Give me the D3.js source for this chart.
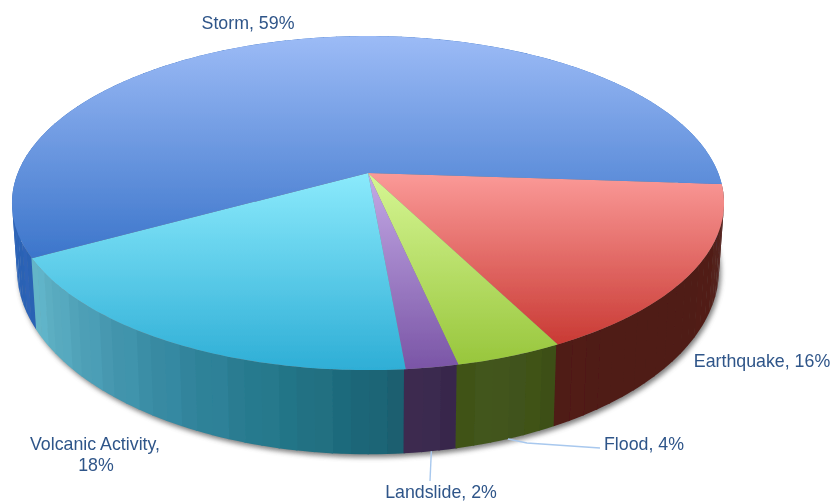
<!DOCTYPE html>
<html>
<head>
<meta charset="utf-8">
<script src="https://cdn.jsdelivr.net/npm/d3@7/dist/d3.min.js"></script>
<style>html,body{margin:0;padding:0;background:#fff}svg{display:block}text{font-family:"Liberation Sans",Arial,sans-serif}</style>
</head>
<body>
<svg id="c" width="834" height="502"></svg>
<script>
// Clockwise from the Storm/Earthquake boundary.
const categories = ["Earthquake","Flood","Landslide","Volcanic Activity","Storm"];
// They round to the percentages printed on the labels.
const shares = [16.4,4.1,2.0,18.4,59.0];
const topColors = [["#fb9a98","#c93a34"],["#d6f694","#98c63c"],["#c4aae6","#7a55a6"],["#8beafc","#2eaed6"],["#9cbbf6","#3a74ca"]];
const wallColors = [
  ["#5e3533","#54251f","#501c16","#4f1b15","#4f1b15","#501a14"],
  ["#3c5016","#40521a","#455622","#3f5319"],
  ["#38284c","#3c2a50"],
  ["#1a5f70","#237789","#33869f","#4c9db5","#63b5c8"],
  ["#2c62b4","#3270c4"]
];

const svg = d3.select("#c");
const defs = svg.append("defs");
defs.append("filter").attr("id","shadow").attr("x","-5%").attr("y","-5%").attr("width","110%").attr("height","110%")
  .append("feGaussianBlur").attr("stdDeviation",2.4);
defs.append("filter").attr("id","soft").append("feGaussianBlur").attr("stdDeviation",0.45);
defs.append("filter").attr("id","softText").attr("x","-5%").attr("y","-20%").attr("width","110%").attr("height","140%")
  .append("feGaussianBlur").attr("stdDeviation",0.3);

const cx = 368, k = 0.18;
const topFace = {a:350.2, b:161.6, y:173};
const baseFace = {a:345.3, b:179, y:236};
const project = (f,t) => {
  const u = Math.sin(t), v = -Math.cos(t), d = 1 - k*v;
  return [cx + f.a*u/d, f.y + f.b*v/d];
};
const line = d3.line();
const sweep = (f,a0,a1,n) => d3.range(n+1).map(i => project(f,a0+(a1-a0)*i/n));

const startDeg = 93.85;
const arcs = d3.pie().sort(null).value(d => d)
  .startAngle(startDeg*Math.PI/180).endAngle((startDeg+360)*Math.PI/180)(shares);

// Soft shadow under the rim
svg.append("path")
  .attr("d", line(sweep(baseFace,0,2*Math.PI,180))+"Z")
  .attr("transform","translate(2,3)")
  .attr("fill","#555").attr("opacity",.75).attr("filter","url(#shadow)");

const pie = svg.append("g").attr("filter","url(#soft)");

// Walls as narrow facets, as in the reference; Storm first so its back wall stays hidden
const facetStep = 2.5*Math.PI/180;
d3.range(arcs.length-1,-1,-1).forEach(i => {
  const s = arcs[i];
  const n = Math.max(2,Math.round((s.endAngle-s.startAngle)/facetStep));
  const shade = d3.interpolateRgbBasis(wallColors[i]);
  d3.range(n).forEach(j => {
    const a0 = s.startAngle+(s.endAngle-s.startAngle)*j/n;
    const a1 = s.startAngle+(s.endAngle-s.startAngle)*(j+1)/n;
    const c = d3.color(shade(j/(n-1)));
    const pts = [...sweep(topFace,a0,a1+0.004,2),...sweep(baseFace,a1+0.004,a0,2)];
    pie.append("path").attr("d",line(pts)+"Z")
      .attr("fill",(j%3===1 ? c.brighter(.05) : c).toString());
  });
});

// Top faces with vertical gradients
arcs.forEach((s,i) => {
  const pts = sweep(topFace,s.startAngle,s.endAngle,Math.ceil((s.endAngle-s.startAngle)*60));
  const ys = pts.map(p=>p[1]).concat(topFace.y);
  const id = "top"+i;
  const g = defs.append("linearGradient").attr("id",id).attr("gradientUnits","userSpaceOnUse")
    .attr("x1",0).attr("x2",0).attr("y1",d3.min(ys)).attr("y2",i===4 ? 262 : d3.max(ys));
  g.append("stop").attr("offset",0).attr("stop-color",topColors[i][0]);
  g.append("stop").attr("offset",1).attr("stop-color",topColors[i][1]);
  pie.append("path").attr("d",line([[cx,topFace.y],...pts])+"Z")
    .attr("fill","url(#"+id+")");
});

// Labels and leaders
const textColor = "#2f5589";
const pct = i => d3.format(".0f")(shares[i])+"%";
const labels = svg.append("g").attr("filter","url(#softText)");
const label = (x,y,str) => labels.append("text").attr("x",x).attr("y",y)
  .attr("text-anchor","middle").attr("font-size",17.8).attr("fill",textColor).text(str);
const name = i => categories[i]+", "+pct(i);

const leader = (i,pts) => {
  const s = arcs[i], start = project(baseFace,(s.startAngle+s.endAngle)/2);
  svg.append("path").attr("d",line([start,...pts])).attr("fill","none")
    .attr("stroke","#a8c8ee").attr("stroke-width",1.4);
};
leader(1,[[527,443],[600,448]]);
leader(2,[[430,481]]);

label(248,29,name(4));
label(762,367,name(0));
label(644,450,name(1));
label(441,498,name(2));
label(95,450,categories[3]+",");
label(96,471,pct(3));
</script>
</body>
</html>
